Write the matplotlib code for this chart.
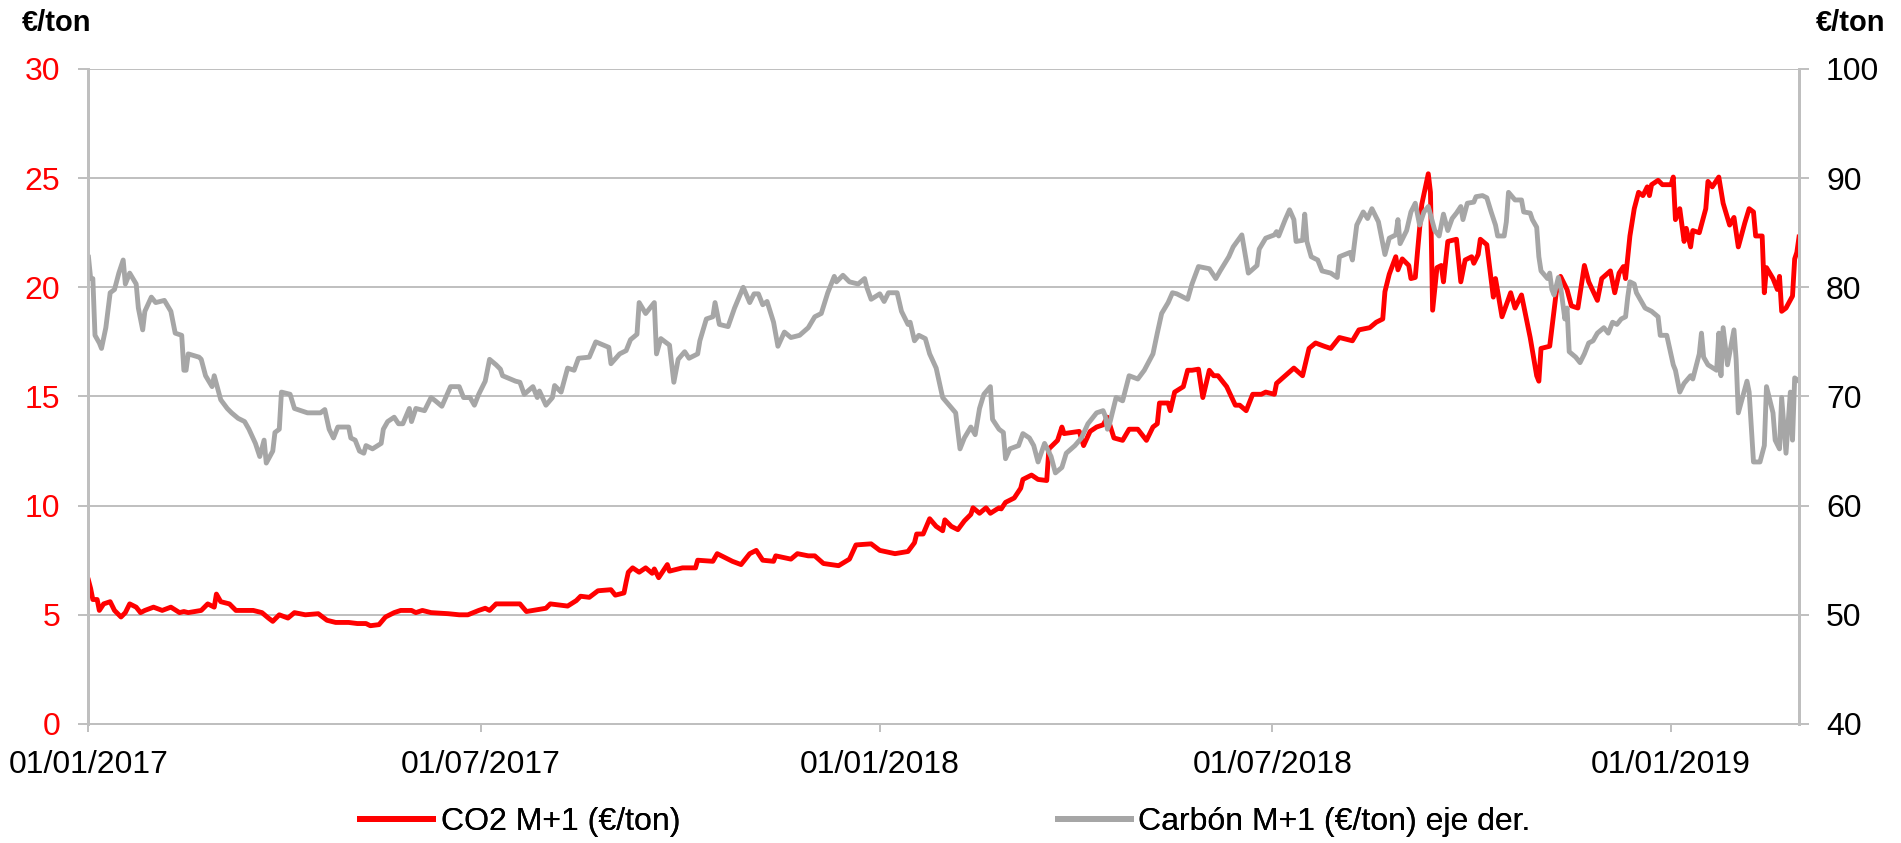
import matplotlib
matplotlib.use("Agg")
import matplotlib.pyplot as plt
import matplotlib.dates as mdates
import pandas as pd

plt.rcParams['font.family'] = ['Liberation Sans', 'DejaVu Sans']

# days counted from 01/01/2017
co2_days = [0, 1, 2, 4, 5, 7, 10, 12, 15, 17, 19, 22, 24, 26, 30, 34, 38, 42, 44, 46,
            52, 55, 58, 59, 61, 65, 68, 76, 80, 83, 85, 88, 92, 95, 100, 106, 110, 114, 120, 124,
            128, 130, 134, 137, 141, 144, 149, 151, 154, 158, 166, 171, 175, 180, 183, 185, 188, 191, 199, 202,
            211, 213, 221, 225, 227, 231, 235, 241, 243, 247, 248, 249, 251, 254, 257, 260, 261, 263, 267, 268,
            274, 280, 281, 288, 290, 297, 301, 305, 308, 311, 316, 317, 324, 327, 332, 335, 339, 346, 351, 354,
            361, 365, 372, 378, 381, 382, 385, 388, 391, 394, 395, 398, 401, 404, 407, 408, 411, 414, 416, 420,
            421, 423, 427, 430, 431, 435, 438, 442, 443, 447, 449, 450, 457, 459, 462, 465, 468, 470, 473, 477,
            480, 484, 488, 491, 493, 494, 498, 499, 501, 505, 507, 509, 512, 514, 517, 519, 521, 525, 529, 531,
            534, 537, 541, 543, 547, 548, 552, 556, 560, 563, 566, 570, 573, 577, 583, 586, 591, 594, 597, 598,
            600, 603, 604, 606, 609, 610, 612, 613, 615, 618, 619, 620, 622, 624, 625, 627, 631, 633, 635, 638,
            639, 641, 642, 645, 648, 649, 652, 656, 658, 661, 665, 668, 669, 670, 674, 677, 679, 682, 684, 687,
            690, 692, 696, 698, 702, 704, 706, 708, 709, 711, 713, 715, 717, 719, 720, 721, 724, 726, 730, 731,
            732, 734, 736, 737, 739, 740, 743, 746, 747, 749, 752, 754, 757, 759, 761, 764, 766, 768, 769, 772,
            773, 774, 777, 779, 780, 781, 783, 786, 787, 788, 789]
co2_vals = [6.58, 6.2, 5.7, 5.7, 5.2, 5.5, 5.6, 5.2, 4.9, 5.1, 5.5, 5.35, 5.1, 5.2, 5.35, 5.2, 5.35, 5.1, 5.15, 5.1,
            5.2, 5.5, 5.35, 5.95, 5.6, 5.5, 5.2, 5.2, 5.1, 4.85, 4.7, 5.0, 4.85, 5.1, 5.0, 5.05, 4.75, 4.65, 4.65, 4.6,
            4.6, 4.5, 4.55, 4.9, 5.1, 5.2, 5.2, 5.1, 5.2, 5.1, 5.05, 5.0, 5.0, 5.2, 5.3, 5.2, 5.5, 5.5, 5.5, 5.15,
            5.3, 5.5, 5.4, 5.65, 5.85, 5.8, 6.1, 6.15, 5.9, 6.0, 6.5, 6.95, 7.15, 6.95, 7.15, 6.9, 7.1, 6.7, 7.3, 7.0,
            7.15, 7.15, 7.5, 7.45, 7.8, 7.45, 7.3, 7.8, 7.95, 7.5, 7.45, 7.7, 7.55, 7.8, 7.7, 7.7, 7.35, 7.25, 7.55, 8.2,
            8.25, 7.95, 7.8, 7.9, 8.3, 8.7, 8.7, 9.4, 9.05, 8.85, 9.35, 9.05, 8.9, 9.3, 9.6, 9.9, 9.65, 9.9, 9.65, 9.9,
            9.85, 10.15, 10.35, 10.8, 11.2, 11.4, 11.2, 11.15, 12.6, 12.99, 13.6, 13.3, 13.4, 12.75, 13.4, 13.6, 13.7, 14.05, 13.1, 12.99,
            13.5, 13.5, 12.99, 13.6, 13.75, 14.7, 14.7, 14.35, 15.2, 15.45, 16.2, 16.2, 16.25, 14.95, 16.2, 15.95, 15.95, 15.45, 14.6, 14.6,
            14.35, 15.1, 15.1, 15.2, 15.1, 15.6, 15.95, 16.3, 15.95, 17.2, 17.45, 17.3, 17.2, 17.7, 17.55, 18.05, 18.15, 18.4, 18.55, 19.8,
            20.6, 21.4, 20.8, 21.3, 21.0, 20.4, 20.45, 21.6, 23.8, 25.2, 24.35, 18.95, 20.9, 21.0, 20.25, 22.1, 22.2, 20.25, 21.25, 21.4,
            21.1, 21.5, 22.2, 21.95, 19.55, 20.4, 18.65, 19.75, 19.05, 19.65, 17.7, 15.95, 15.7, 17.2, 17.3, 19.75, 20.5, 19.9, 19.15, 19.05,
            21.0, 20.25, 19.4, 20.4, 20.75, 19.75, 20.65, 20.95, 20.4, 22.35, 23.6, 24.35, 24.2, 24.6, 24.2, 24.7, 24.9, 24.7, 24.7, 25.05,
            23.1, 23.6, 22.1, 22.7, 21.85, 22.6, 22.5, 23.6, 24.85, 24.6, 25.05, 23.85, 22.85, 23.2, 21.85, 22.95, 23.6, 23.45, 22.35, 22.35,
            19.75, 20.9, 20.4, 19.9, 20.5, 18.9, 19.05, 19.6, 21.3, 21.6, 22.3]

coal_days = [0, 1, 2, 3, 5, 6, 8, 10, 12, 14, 16, 17, 19, 22, 23, 25, 26, 29, 31, 35,
             38, 40, 43, 44, 45, 46, 51, 52, 54, 57, 58, 61, 64, 66, 69, 72, 74, 77, 79, 81,
             82, 85, 86, 88, 89, 93, 95, 101, 107, 109, 111, 113, 115, 120, 121, 123, 125, 127, 128, 131,
             135, 136, 138, 141, 143, 145, 148, 149, 151, 155, 158, 160, 163, 167, 171, 173, 176, 178, 180, 183,
             185, 188, 190, 191, 197, 199, 201, 205, 207, 208, 211, 214, 215, 218, 221, 224, 226, 231, 234, 240,
             241, 245, 248, 250, 253, 254, 257, 261, 262, 264, 268, 270, 272, 275, 277, 281, 282, 285, 288, 289,
             291, 295, 298, 302, 305, 307, 309, 311, 313, 316, 318, 321, 324, 328, 332, 335, 338, 341, 344, 345,
             348, 351, 355, 358, 359, 361, 365, 367, 369, 373, 375, 378, 379, 381, 383, 386, 388, 391, 394, 397,
             400, 402, 404, 407, 409, 411, 413, 416, 417, 420, 422, 423, 425, 429, 431, 434, 436, 438, 441, 444,
             446, 449, 451, 455, 458, 461, 465, 468, 469, 470, 471, 474, 477, 480, 484, 487, 491, 493, 495, 498,
             500, 502, 507, 509, 512, 517, 520, 522, 526, 528, 532, 535, 539, 540, 543, 547, 548, 549, 552, 554,
             556, 557, 560, 561, 562, 564, 567, 569, 573, 576, 577, 582, 583, 585, 588, 590, 592, 595, 598, 600,
             603, 604, 605, 608, 610, 612, 614, 616, 618, 621, 623, 625, 627, 629, 631, 633, 634, 636, 639, 640,
             643, 645, 647, 649, 650, 653, 654, 655, 658, 661, 662, 665, 666, 668, 669, 670, 673, 674, 675, 676,
             678, 679, 681, 682, 683, 686, 688, 690, 692, 694, 696, 699, 701, 703, 705, 707, 709, 710, 711, 713,
             714, 718, 721, 724, 725, 728, 731, 732, 734, 736, 739, 740, 743, 744, 745, 747, 751, 752, 753, 754,
             756, 759, 760, 761, 765, 766, 768, 771, 773, 774, 777, 778, 780, 781, 783, 785, 786, 787, 789]
coal_vals = [82.75, 80.8, 80.8, 75.6, 74.9, 74.4, 76.3, 79.5, 79.8, 81.3, 82.5, 80.3, 81.3, 80.3, 78.1, 76.1, 77.8, 79.1, 78.6, 78.8,
             77.8, 75.8, 75.6, 72.4, 72.4, 73.9, 73.6, 73.4, 71.9, 70.9, 71.9, 69.7, 68.9, 68.5, 68.0, 67.7, 67.0, 65.7, 64.5, 66.0,
             63.9, 65.0, 66.7, 67.0, 70.4, 70.2, 68.9, 68.5, 68.5, 68.8, 67.0, 66.2, 67.2, 67.2, 66.2, 66.0, 65.0, 64.8, 65.5, 65.2,
             65.7, 67.0, 67.7, 68.1, 67.5, 67.5, 68.9, 67.7, 68.9, 68.7, 69.9, 69.6, 69.1, 70.9, 70.9, 69.9, 69.9, 69.2, 70.2, 71.4,
             73.4, 72.9, 72.5, 71.9, 71.4, 71.3, 70.2, 70.9, 69.9, 70.5, 69.2, 69.9, 71.0, 70.4, 72.6, 72.4, 73.5, 73.6, 75.0, 74.5,
             73.0, 73.9, 74.2, 75.2, 75.7, 78.6, 77.6, 78.6, 73.9, 75.3, 74.7, 71.3, 73.4, 74.1, 73.5, 73.9, 75.1, 77.1, 77.3, 78.6,
             76.6, 76.4, 78.1, 80.0, 78.6, 79.4, 79.4, 78.4, 78.7, 76.8, 74.6, 75.9, 75.4, 75.6, 76.3, 77.3, 77.6, 79.5, 81.0, 80.5,
             81.1, 80.5, 80.3, 80.8, 80.0, 78.9, 79.4, 78.7, 79.5, 79.5, 77.8, 76.6, 76.8, 75.1, 75.6, 75.3, 73.9, 72.6, 69.9, 69.2,
             68.5, 65.2, 66.2, 67.2, 66.5, 68.9, 70.2, 70.9, 67.9, 67.0, 66.7, 64.3, 65.2, 65.5, 66.6, 66.2, 65.5, 64.0, 65.7, 64.5,
             63.0, 63.5, 64.8, 65.5, 66.2, 67.5, 68.5, 68.7, 68.2, 67.0, 67.5, 69.9, 69.6, 71.9, 71.6, 72.4, 73.9, 75.8, 77.6, 78.6,
             79.5, 79.4, 78.9, 80.3, 81.9, 81.7, 80.8, 81.5, 82.8, 83.7, 84.8, 81.3, 82.0, 83.5, 84.5, 84.8, 85.1, 84.7, 86.2, 87.1,
             86.2, 84.2, 84.3, 86.7, 84.2, 82.8, 82.5, 81.5, 81.3, 80.9, 82.8, 83.2, 82.5, 85.7, 86.9, 86.3, 87.2, 86.0, 83.0, 84.5,
             84.8, 86.2, 84.0, 85.2, 86.9, 87.7, 85.7, 86.9, 87.4, 85.2, 84.7, 86.7, 85.2, 86.3, 86.8, 87.4, 86.2, 87.7, 87.8, 88.3,
             88.4, 88.2, 86.9, 85.7, 84.7, 84.7, 86.0, 88.7, 88.0, 88.0, 86.9, 86.8, 86.2, 85.5, 82.8, 81.5, 80.8, 81.3, 79.8, 79.3,
             80.9, 80.1, 77.1, 78.1, 74.1, 73.6, 73.1, 73.9, 74.9, 75.1, 75.8, 76.3, 75.8, 76.8, 76.6, 77.1, 77.3, 79.1, 80.5, 80.3,
             79.5, 78.1, 77.8, 77.3, 75.6, 75.6, 72.9, 72.4, 70.4, 71.2, 71.9, 71.6, 73.9, 75.8, 73.6, 72.9, 72.4, 75.8, 71.9, 76.3,
             72.9, 76.1, 73.4, 68.5, 71.4, 70.4, 64.0, 64.0, 65.5, 70.9, 68.5, 66.0, 65.2, 69.9, 64.8, 70.4, 66.0, 71.7, 71.4]

start = pd.Timestamp("2017-01-01")
co2_dates = start + pd.to_timedelta(co2_days, unit="D")
coal_dates = start + pd.to_timedelta(coal_days, unit="D")
tick_dates = pd.to_datetime(["2017-01-01", "2017-07-01", "2018-01-01", "2018-07-01", "2019-01-01"])

RED = "#FF0000"
GREY = "#A6A6A6"
GRID = "#BFBFBF"

fig = plt.figure(figsize=(19.01, 8.43), dpi=100)
ax = fig.add_axes([0.04655, 0.1412, 0.8998, 0.777])
ax2 = ax.twinx()

l1, = ax.plot(co2_dates, co2_vals, color=RED, lw=3.5, solid_joinstyle="round")
l2, = ax2.plot(coal_dates, coal_vals, color=GREY, lw=3.5, solid_joinstyle="round")

ax.set_xlim(start, start + pd.Timedelta(days=789))
ax.set_ylim(0, 30)
ax2.set_ylim(40, 100)
ax.set_yticks(range(0, 31, 5))
ax2.set_yticks(range(40, 101, 10))
ax.set_xticks(tick_dates)
ax.xaxis.set_major_formatter(mdates.DateFormatter("%d/%m/%Y"))

ax.grid(axis="y", color=GRID, lw=1.4)
ax.set_axisbelow(True)

for a in (ax, ax2):
    a.spines["top"].set_visible(False)
    for s in ("left", "right", "bottom"):
        a.spines[s].set_color(GRID)
    a.spines["left"].set_linewidth(2.0)
    a.spines["right"].set_linewidth(2.0)
    a.spines["bottom"].set_linewidth(1.4)

ax.tick_params(axis="y", colors=GRID, labelcolor=RED, length=7.5, width=1.4, pad=13, labelsize=23)
ax2.tick_params(axis="y", colors=GRID, labelcolor="black", length=7.5, width=1.4, pad=12, labelsize=23)
ax.tick_params(axis="x", colors=GRID, labelcolor="black", length=6, width=1.4, pad=13, labelsize=23)

fig.text(22 / 1901, 1 - 23 / 843, "€/ton", fontsize=21, fontweight="bold", ha="left", va="center")
fig.text(1816 / 1901, 1 - 23 / 843, "€/ton", fontsize=21, fontweight="bold", ha="left", va="center")

leg_y = 1 - 822 / 843
for handle, label, x0 in ((l1, "CO2 M+1 (€/ton)", 360), (l2, "Carbón M+1 (€/ton) eje der.", 1058)):
    lg = fig.legend([handle], [label], loc="center left", bbox_to_anchor=(x0 / 1901, leg_y),
                    frameon=False, fontsize=23, handlelength=2.3, handletextpad=0.22,
                    borderpad=0, borderaxespad=0)
    for ln in lg.get_lines():
        ln.set_linewidth(4.3)
    fig.add_artist(lg)

fig.savefig("out.png", dpi=100)
